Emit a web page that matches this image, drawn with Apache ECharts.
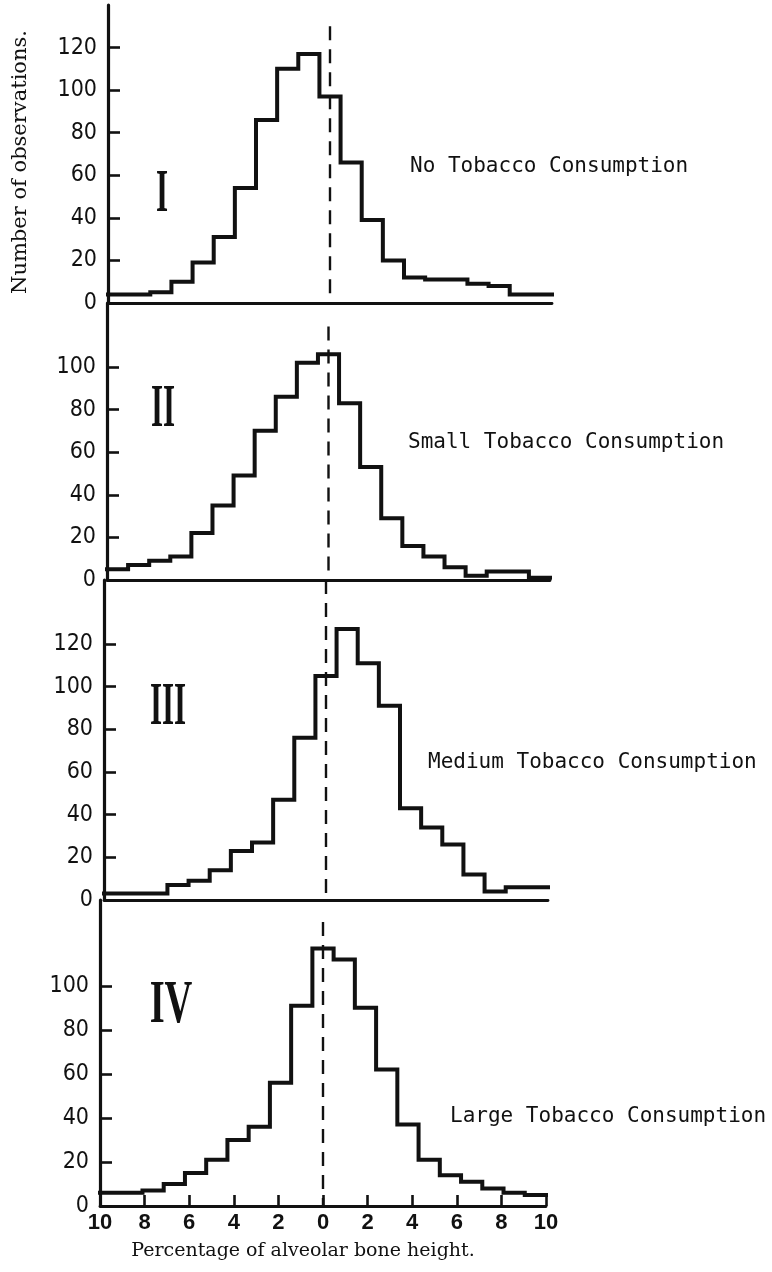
<!DOCTYPE html>
<html><head><meta charset="utf-8">
<script src="https://cdn.jsdelivr.net/npm/echarts@6/dist/echarts.min.js"></script>
<style>html,body{margin:0;padding:0;background:#fff}#c{width:772px;height:1272px}</style>
</head><body><div id="c"></div>
<script>
// ---------- data ----------
const panelNumerals = ['I', 'II', 'III', 'IV'];
const panelTitles = ['No Tobacco Consumption', 'Small Tobacco Consumption', 'Medium Tobacco Consumption', 'Large Tobacco Consumption'];
const xTickLabels = ['10', '8', '6', '4', '2', '0', '2', '4', '6', '8', '10'];
const binCount = 21; // classes spanning -10 .. +10
const noTobacco     = [4, 4, 5, 10, 19, 31, 54, 86, 110, 117, 97, 66, 39, 20, 12, 11, 11, 9, 8, 4, 4];
const smallTobacco  = [5, 7, 9, 11, 22, 35, 49, 70, 86, 102, 106, 83, 53, 29, 16, 11, 6, 2, 4, 4, 1];
const mediumTobacco = [3, 3, 3, 7, 9, 14, 23, 27, 47, 76, 105, 127, 111, 91, 43, 34, 26, 12, 4, 6, 6];
const largeTobacco  = [6, 6, 7, 10, 15, 21, 30, 36, 56, 91, 117, 112, 90, 62, 37, 21, 14, 11, 8, 6, 5];
const yTickValues = [[0, 20, 40, 60, 80, 100, 120], [0, 20, 40, 60, 80, 100], [0, 20, 40, 60, 80, 100, 120], [0, 20, 40, 60, 80, 100]];
const yAxisMax = [140, 130, 150, 139];
const dashTop = [130, 119, 150, 129];
const yAxisTitle = 'Number of observations.';
const xAxisTitle = 'Percentage of alveolar bone height.';

// ---------- layout ----------
const grids = [
  { left: 108, top: 5,   width: 444, height: 298 },
  { left: 107, top: 303, width: 443, height: 277 },
  { left: 104, top: 580, width: 444, height: 320 },
  { left: 100, top: 900, width: 446, height: 306 }
];
const seriesValues = [noTobacco, smallTobacco, mediumTobacco, largeTobacco];
const XMIN = -10, XMAX = 10;
const binWidth = (XMAX - XMIN) / binCount;

function stepData(vals) {
  const d = vals.map((v, i) => [XMIN + i * binWidth, v]);
  d.push([XMAX, vals[vals.length - 1]]);
  return d;
}

const INK = '#111';
const numFont = '"Liberation Sans Narrow","DejaVu Sans Condensed","Liberation Sans",sans-serif';

const xAxes = [], yAxes = [], series = [];
grids.forEach((g, i) => {
  const last = i === grids.length - 1;
  xAxes.push({
    gridIndex: i, type: 'value', min: XMIN, max: XMAX, interval: 2,
    axisLine: { show: true, onZero: false, lineStyle: { color: INK, width: 2.8 } },
    axisTick: { show: last, inside: true, length: 11, lineStyle: { color: INK, width: 2.6 } },
    axisLabel: {
      show: last, margin: 6, color: INK,
      fontFamily: '"Liberation Sans","DejaVu Sans",sans-serif', fontWeight: 'bold', fontSize: 22,
      formatter: v => xTickLabels[Math.round((v - XMIN) / 2)]
    },
    splitLine: { show: false }
  });
  yAxes.push({
    gridIndex: i, type: 'value', min: 0, max: yAxisMax[i],
    axisLine: { show: true, onZero: false, lineStyle: { color: INK, width: 3.2 } },
    axisTick: { show: true, inside: true, length: 12, customValues: yTickValues[i], lineStyle: { color: INK, width: 2.6 } },
    axisLabel: { show: true, margin: 11, color: INK, fontFamily: numFont, fontSize: 23, customValues: yTickValues[i] },
    splitLine: { show: false }
  });
  series.push({
    type: 'line', xAxisIndex: i, yAxisIndex: i, step: 'end', symbol: 'none', silent: true,
    data: stepData(seriesValues[i]),
    lineStyle: { color: INK, width: 4, join: 'miter', cap: 'square' }
  });
  series.push({
    type: 'line', xAxisIndex: i, yAxisIndex: i, symbol: 'none', silent: true,
    data: [[0, dashTop[i]], [0, 0]],
    lineStyle: { color: INK, width: 2.4, type: [14, 9] }
  });
});

// annotation text placement (pixels)
const numeralPos = [[162, 195, 0.5], [163, 410, 0.5], [168, 708, 0.5], [171, 1006, 0.62]];
const titlePos = [[410, 167], [408, 443], [428, 763], [450, 1117]];

const graphic = [];
panelNumerals.forEach((t, i) => {
  graphic.push({
    type: 'text', x: numeralPos[i][0], y: numeralPos[i][1], scaleX: numeralPos[i][2], silent: true,
    style: { text: t, fill: INK, font: 'bold 62px "Liberation Serif","DejaVu Serif",serif', textAlign: 'center', textVerticalAlign: 'middle' }
  });
  graphic.push({
    type: 'text', x: titlePos[i][0], y: titlePos[i][1], silent: true,
    style: { text: panelTitles[i], fill: INK, font: '21px "DejaVu Sans Mono","Liberation Mono",monospace', textAlign: 'left', textVerticalAlign: 'middle' }
  });
});
graphic.push({
  type: 'text', x: 21, y: 162, rotation: Math.PI / 2, silent: true,
  style: { text: yAxisTitle, fill: INK, font: '21px "DejaVu Serif","Liberation Serif",serif', textAlign: 'center', textVerticalAlign: 'middle' }
});
graphic.push({
  type: 'text', x: 303, y: 1251, silent: true,
  style: { text: xAxisTitle, fill: INK, font: '19px "DejaVu Serif","Liberation Serif",serif', textAlign: 'center', textVerticalAlign: 'middle' }
});

const chart = echarts.init(document.getElementById('c'), null, { renderer: 'canvas' });
chart.setOption({
  backgroundColor: '#fff',
  animation: false,
  grid: grids.map(g => Object.assign({ containLabel: false }, g)),
  xAxis: xAxes,
  yAxis: yAxes,
  series: series,
  graphic: graphic
});
</script></body></html>
